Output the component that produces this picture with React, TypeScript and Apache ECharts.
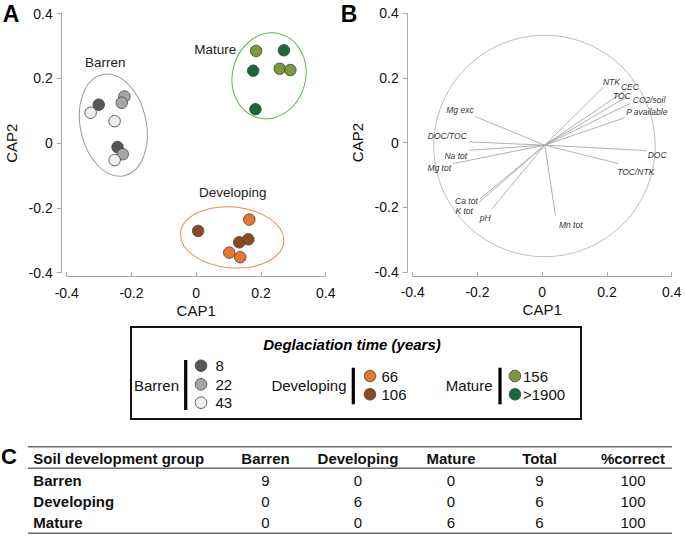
import React, { useEffect, useRef } from 'react';
import * as echarts from 'echarts';

const FONT = '"Liberation Sans", Arial, Helvetica, sans-serif';

// ---------- Panel A: CAP site scores ----------
const classNames = ['8', '22', '43', '66', '106', '156', '>1900'];
const classColors = ['#575757', '#a6a6a6', '#efefef', '#e8772e', '#8c4a1f', '#7c9a3a', '#17693a'];
const pts8 = [[-0.301, 0.119], [-0.243, -0.012]];
const pts22 = [[-0.222, 0.144], [-0.230, 0.125], [-0.227, -0.034]];
const pts43 = [[-0.326, 0.094], [-0.252, 0.068], [-0.252, -0.052]];
const pts66 = [[0.164, -0.236], [0.102, -0.338], [0.136, -0.352]];
const pts106 = [[0.006, -0.271], [0.133, -0.306], [0.161, -0.297]];
const pts156 = [[0.185, 0.285], [0.258, 0.230], [0.291, 0.226]];
const pts1900 = [[0.271, 0.287], [0.176, 0.224], [0.183, 0.105]];
const classPoints = [pts8, pts22, pts43, pts66, pts106, pts156, pts1900];

const groupNames = ['Barren', 'Developing', 'Mature'];
const groupLabelPos = [[-0.281, 0.250], [0.113, -0.151], [0.059, 0.289]];
// [centerX, centerY, radiusX, radiusY, tiltDeg]
const groupEllipses = [
  [-0.256, 0.056, 0.102, 0.160, 12],
  [0.111, -0.291, 0.160, 0.094, -5],
  [0.225, 0.208, 0.113, 0.134, -15],
];
const groupColors = ['#9a9a9a', '#e8904c', '#5cb85c'];

// ---------- Panel B: environmental vectors ----------
const vectorNames = ['NTK', 'CEC', 'TOC', 'CO2/soil', 'P available', 'Mg exc', 'DOC/TOC', 'Na tot', 'Mg tot', 'Ca tot', 'K tot', 'pH', 'Mn tot', 'DOC', 'TOC/NTK'];
const vectorX = [0.188, 0.258, 0.261, 0.271, 0.255, -0.208, -0.228, -0.225, -0.275, -0.192, -0.196, -0.156, 0.041, 0.322, 0.235];
const vectorY = [0.170, 0.162, 0.141, 0.121, 0.077, 0.081, 0.002, -0.024, -0.065, -0.174, -0.186, -0.206, -0.226, -0.025, -0.065];
const labelX = [0.214, 0.271, 0.246, 0.330, 0.323, -0.254, -0.293, -0.267, -0.318, -0.234, -0.241, -0.176, 0.088, 0.355, 0.289];
const labelY = [0.188, 0.172, 0.145, 0.132, 0.093, 0.100, 0.019, -0.041, -0.080, -0.181, -0.211, -0.232, -0.256, -0.039, -0.091];
const vectorOrigin = [0.008, -0.008];
const correlationCircle = [0.007, -0.009, 0.342];

// ---------- Axes ----------
const axisMin = -0.4;
const axisMax = 0.4;
const axisStep = 0.2;

// ---------- Legend ----------
const legendTitle = 'Deglaciation time (years)';
const legendGroupClasses = [[0, 1, 2], [3, 4], [5, 6]];

// ---------- Panel C: classification table ----------
const tableHeader = ['Soil development group', 'Barren', 'Developing', 'Mature', 'Total', '%correct'];
const tableRows = ['Barren', 'Developing', 'Mature'];
const tableValues = [
  [9, 0, 0, 9, 100],
  [0, 6, 0, 6, 100],
  [0, 0, 6, 6, 100],
];

function makeAxes(gi: number, isX: boolean) {
  return {
    gridIndex: gi,
    type: 'value',
    min: axisMin,
    max: axisMax,
    interval: axisStep,
    offset: isX ? 4 : 5,
    splitLine: { show: false },
    axisLine: { show: true, onZero: false, lineStyle: { color: '#a8a8a8', width: 1 } },
    axisTick: { show: true, inside: isX, length: isX ? 4 : 5, lineStyle: { color: '#a8a8a8' } },
    axisLabel: { color: '#111', fontSize: 14, fontFamily: FONT, margin: 9 },
    name: isX ? 'CAP1' : 'CAP2',
    nameLocation: 'middle',
    nameGap: isX ? 26 : 43,
    nameTextStyle: { color: '#111', fontSize: 15, fontFamily: FONT },
  };
}

function txt(text: string, x: number, y: number, font: string, align = 'center', fill = '#000') {
  return {
    type: 'text',
    x,
    y,
    silent: true,
    style: { text, font, fill, textAlign: align, textVerticalAlign: 'middle' },
  };
}

export default function App() {
  const ref = useRef<HTMLDivElement>(null);

  useEffect(() => {
    if (!ref.current) return;
    const chart = echarts.init(ref.current, undefined, { renderer: 'svg' });

    const series: any[] = [];

    // Group ellipses (panel A)
    series.push({
      type: 'custom',
      xAxisIndex: 0,
      yAxisIndex: 0,
      silent: true,
      z: 1,
      data: groupEllipses,
      renderItem: (params: any, api: any) => {
        const c = api.coord([api.value(0), api.value(1)]);
        const s = api.size([api.value(2), api.value(3)]);
        return {
          type: 'ellipse',
          x: c[0],
          y: c[1],
          rotation: (api.value(4) * Math.PI) / 180,
          shape: { cx: 0, cy: 0, rx: s[0], ry: s[1] },
          style: { fill: 'none', stroke: groupColors[params.dataIndex], lineWidth: 1 },
        };
      },
    });

    // Group labels (panel A)
    series.push({
      type: 'custom',
      xAxisIndex: 0,
      yAxisIndex: 0,
      silent: true,
      z: 2,
      data: groupLabelPos,
      renderItem: (params: any, api: any) => {
        const c = api.coord([api.value(0), api.value(1)]);
        return {
          type: 'text',
          x: c[0],
          y: c[1],
          style: {
            text: groupNames[params.dataIndex],
            font: `13.5px ${FONT}`,
            fill: '#222',
            textAlign: 'center',
            textVerticalAlign: 'middle',
          },
        };
      },
    });

    // Sample points (panel A)
    classPoints.forEach((pts, i) => {
      series.push({
        type: 'scatter',
        name: classNames[i],
        xAxisIndex: 0,
        yAxisIndex: 0,
        z: 3,
        symbol: 'circle',
        symbolSize: 11.5,
        data: pts,
        itemStyle: { color: classColors[i], borderColor: '#3c3c3c', borderWidth: 0.8, opacity: 1 },
      });
    });

    // Correlation circle (panel B)
    series.push({
      type: 'custom',
      xAxisIndex: 1,
      yAxisIndex: 1,
      silent: true,
      z: 1,
      data: [correlationCircle],
      renderItem: (params: any, api: any) => {
        const c = api.coord([api.value(0), api.value(1)]);
        const r = api.size([api.value(2), 0])[0];
        return {
          type: 'circle',
          shape: { cx: c[0], cy: c[1], r },
          style: { fill: 'none', stroke: '#bdbdbd', lineWidth: 1 },
        };
      },
    });

    // Vectors (panel B)
    series.push({
      type: 'custom',
      xAxisIndex: 1,
      yAxisIndex: 1,
      silent: true,
      z: 2,
      data: vectorX.map((x, i) => [x, vectorY[i]]),
      renderItem: (params: any, api: any) => {
        const o = api.coord(vectorOrigin);
        const e = api.coord([api.value(0), api.value(1)]);
        return {
          type: 'line',
          shape: { x1: o[0], y1: o[1], x2: e[0], y2: e[1] },
          style: { stroke: '#a9a9a9', lineWidth: 0.9 },
        };
      },
    });

    // Vector labels (panel B)
    series.push({
      type: 'custom',
      xAxisIndex: 1,
      yAxisIndex: 1,
      silent: true,
      z: 3,
      data: labelX.map((x, i) => [x, labelY[i]]),
      renderItem: (params: any, api: any) => {
        const c = api.coord([api.value(0), api.value(1)]);
        return {
          type: 'text',
          x: c[0],
          y: c[1],
          style: {
            text: vectorNames[params.dataIndex],
            font: `italic 8.5px ${FONT}`,
            fill: '#333',
            textAlign: 'center',
            textVerticalAlign: 'middle',
          },
        };
      },
    });

    // ---------- graphic: panel letters, legend, table ----------
    const graphic: any[] = [];
    graphic.push(txt('A', 11, 14, `bold 23px ${FONT}`));
    graphic.push(txt('B', 349, 14, `bold 23px ${FONT}`));
    graphic.push(txt('C', 9, 456, `bold 22px ${FONT}`));

    // Legend box
    graphic.push({
      type: 'rect',
      silent: true,
      shape: { x: 131, y: 327, width: 450, height: 92 },
      style: { fill: 'none', stroke: '#111', lineWidth: 2 },
    });
    graphic.push(txt(legendTitle, 352, 344.5, `italic bold 15px ${FONT}`));

    const legendNameRight = [179, 346.5, 492.5];
    const legendBarX = [185.7, 353.3, 500];
    const legendBarY = [[360, 410], [367.7, 404.3], [367.7, 404.3]];
    const legendDotX = [201, 370, 515];
    const legendTextX = [215.5, 381.5, 523];
    const legendDotY = [[365.7, 384.3, 402.7], [376, 394.3], [376, 394.3]];
    groupNames.forEach((g, gi) => {
      graphic.push(txt(g, legendNameRight[gi], 385, `15px ${FONT}`, 'right', '#111'));
      graphic.push({
        type: 'rect',
        silent: true,
        shape: { x: legendBarX[gi] - 1.6, y: legendBarY[gi][0], width: 3.2, height: legendBarY[gi][1] - legendBarY[gi][0] },
        style: { fill: '#000' },
      });
      legendGroupClasses[gi].forEach((ci, k) => {
        graphic.push({
          type: 'circle',
          silent: true,
          shape: { cx: legendDotX[gi], cy: legendDotY[gi][k], r: 5.8 },
          style: { fill: classColors[ci], stroke: '#3c3c3c', lineWidth: 0.8 },
        });
        graphic.push(txt(classNames[ci], legendTextX[gi], legendDotY[gi][k], `15px ${FONT}`, 'left', '#111'));
      });
    });

    // Table
    const tLeft = 28;
    const tRight = 672;
    [446.7, 468.3, 533.3].forEach((y) => {
      graphic.push({
        type: 'line',
        silent: true,
        shape: { x1: tLeft, y1: y, x2: tRight, y2: y },
        style: { stroke: '#6a6a6a', lineWidth: 1.5 },
      });
    });
    const colX = [265.5, 358, 451, 539.5, 633];
    const rowY = [480, 501.7, 522.7];
    const tFont = `bold 15px ${FONT}`;
    graphic.push(txt(tableHeader[0], 33.3, 458.3, tFont, 'left', '#111'));
    tableHeader.slice(1).forEach((h, i) => graphic.push(txt(h, colX[i], 458.3, tFont, 'center', '#111')));
    tableRows.forEach((r, ri) => {
      graphic.push(txt(r, 33.3, rowY[ri], tFont, 'left', '#111'));
      tableValues[ri].forEach((v, ci) => {
        graphic.push(txt(String(v), colX[ci], rowY[ri], `15px ${FONT}`, 'center', '#111'));
      });
    });

    chart.setOption({
      animation: false,
      backgroundColor: '#ffffff',
      grid: [
        { left: 66.7, top: 13.7, width: 259, height: 259 },
        { left: 412.7, top: 13.3, width: 259, height: 258.5 },
      ],
      xAxis: [makeAxes(0, true), makeAxes(1, true)],
      yAxis: [makeAxes(0, false), makeAxes(1, false)],
      series,
      graphic,
    });

    return () => chart.dispose();
  }, []);

  return (
    <div
      ref={ref}
      style={{ position: 'absolute', left: 0, top: 0, width: 685, height: 536, background: '#fff' }}
    />
  );
}
